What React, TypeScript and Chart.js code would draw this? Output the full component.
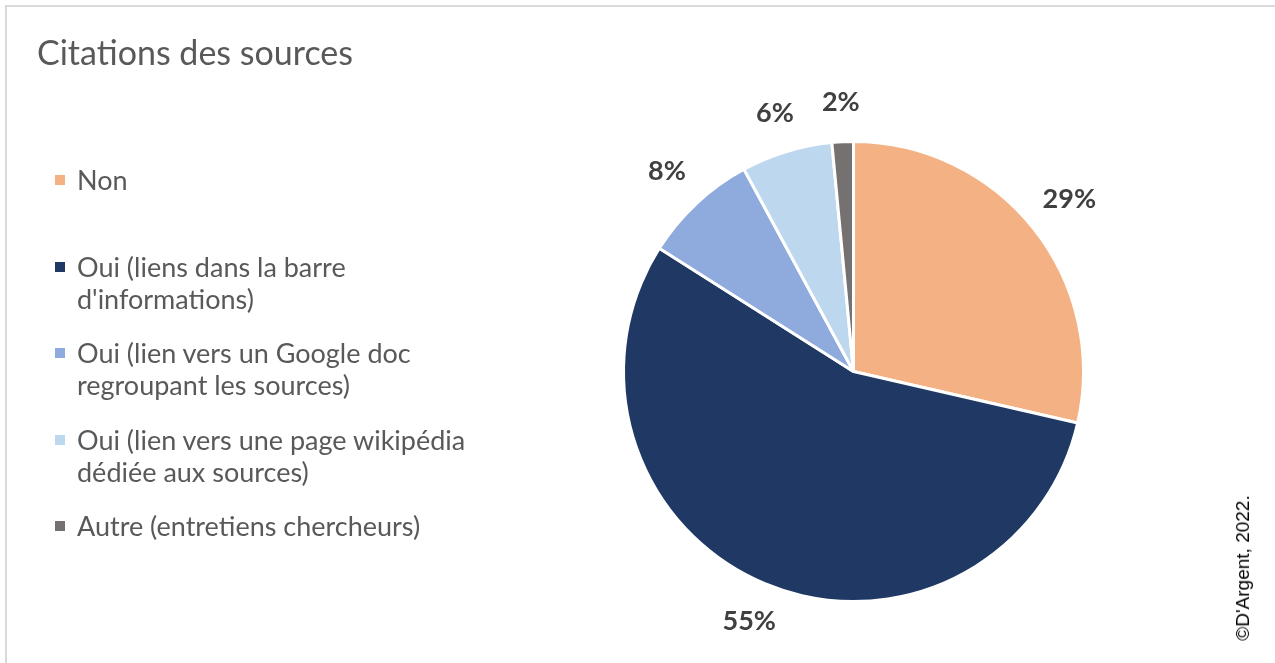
import React, { useEffect, useRef } from "react";
import { Chart, registerables } from "chart.js";

Chart.register(...registerables);

const title = "Citations des sources";
const categories = [
  "Non",
  "Oui (liens dans la barre\nd'informations)",
  "Oui (lien vers un Google doc\nregroupant les sources)",
  "Oui (lien vers une page wikipédia\ndédiée aux sources)",
  "Autre (entretiens chercheurs)",
];
const values = [28.6, 55.4, 8.1, 6.4, 1.5];
const colors = ["#F4B183", "#203864", "#8FAADC", "#BDD7EE", "#767171"];
const credit = "©D'Argent, 2022.";

const FONT = "Lato, 'Open Sans', sans-serif";
const W = 1275;
const H = 663;

const labelPlugin = {
  id: "outsideLabels",
  afterDatasetsDraw(chart: any) {
    const ctx = chart.ctx;
    const meta = chart.getDatasetMeta(0);
    const data = chart.data.datasets[0].data as number[];
    const total = data.reduce((a, b) => a + b, 0);
    ctx.save();
    ctx.font = `bold 27px ${FONT}`;
    ctx.fillStyle = "#404040";
    ctx.textAlign = "center";
    ctx.textBaseline = "middle";
    meta.data.forEach((arc: any, i: number) => {
      const text = Math.round((data[i] / total) * 100) + "%";
      const hw = ctx.measureText(text).width / 2;
      const hh = 10.5;
      const a = (arc.startAngle + arc.endAngle) / 2;
      const c = Math.abs(Math.cos(a));
      const s = Math.abs(Math.sin(a));
      const ext = Math.min(c > 1e-6 ? hw / c : Infinity, s > 1e-6 ? hh / s : Infinity);
      const r = arc.outerRadius + 29 + ext;
      const x = arc.x + Math.cos(a) * r;
      const y = arc.y + Math.sin(a) * r;
      ctx.fillText(text, x, y);
    });
    ctx.restore();
  },
};

export default function App() {
  const ref = useRef<HTMLCanvasElement>(null);
  useEffect(() => {
    if (!ref.current) return;
    const chart = new Chart(ref.current, {
      type: "pie",
      data: {
        labels: categories,
        datasets: [
          {
            data: values,
            backgroundColor: colors,
            borderColor: "#ffffff",
            borderWidth: 3,
          },
        ],
      },
      options: {
        responsive: false,
        animation: false,
        devicePixelRatio: 1,
        layout: { padding: { left: 622, right: 190, top: 140, bottom: 60 } },
        plugins: { legend: { display: false }, tooltip: { enabled: false } },
      },
      plugins: [labelPlugin],
    });
    return () => chart.destroy();
  }, []);

  const legendTop = 164;
  const itemStep = 86.5;

  return (
    <div
      style={{
        position: "absolute",
        left: 0,
        top: 0,
        width: W,
        height: H,
        overflow: "hidden",
        background: "#fff",
        fontFamily: FONT,
      }}
    >
      <div
        style={{
          position: "absolute",
          left: 5,
          top: 5,
          width: W + 20,
          height: H + 20,
          border: "2px solid #d9d9d9",
        }}
      />
      <canvas ref={ref} width={W} height={H} style={{ position: "absolute", left: 0, top: 0 }} />
      <div
        style={{
          position: "absolute",
          left: 37,
          top: 32,
          fontSize: 34,
          color: "#595959",
          lineHeight: "40px",
          whiteSpace: "nowrap",
        }}
      >
        {title}
      </div>
      {categories.map((c, i) => (
        <div
          key={i}
          style={{
            position: "absolute",
            left: 55,
            top: legendTop + i * itemStep,
            display: "flex",
            alignItems: "flex-start",
          }}
        >
          <div
            style={{
              width: 10,
              height: 10,
              marginTop: 11,
              background: colors[i],
              flex: "none",
            }}
          />
          <div
            style={{
              marginLeft: 12,
              fontSize: 27,
              lineHeight: "32px",
              color: "#595959",
              whiteSpace: "pre",
            }}
          >
            {c}
          </div>
        </div>
      ))}
      <div
        style={{
          position: "absolute",
          left: 1243,
          top: 568,
          transform: "translate(-50%, -50%) rotate(-90deg)",
          fontSize: 19,
          color: "#000",
          whiteSpace: "nowrap",
          fontFamily: "'Liberation Sans', Arial, sans-serif",
        }}
      >
        {credit}
      </div>
    </div>
  );
}
